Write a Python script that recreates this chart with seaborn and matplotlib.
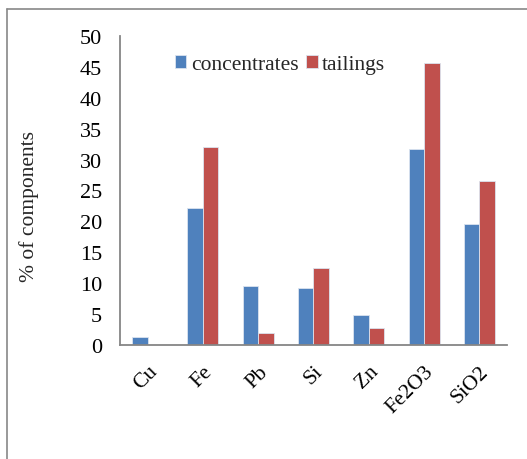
import matplotlib
matplotlib.use("Agg")
import matplotlib.pyplot as plt
import seaborn as sns
import pandas as pd
from matplotlib.lines import Line2D

categories = ["Cu", "Fe", "Pb", "Si", "Zn", "Fe2O3", "SiO2"]
concentrates = [1.3, 22.2, 9.5, 9.2, 4.8, 31.7, 19.6]
tailings = [0.0, 32.0, 2.0, 12.5, 2.7, 45.7, 26.6]
series_names = ["concentrates", "tailings"]
yticks = [0, 5, 10, 15, 20, 25, 30, 35, 40, 45, 50]

df = pd.DataFrame({
    "component": categories * 2,
    "value": concentrates + tailings,
    "series": [series_names[0]] * len(categories) + [series_names[1]] * len(categories),
})

sns.set_style("white")
plt.rcParams["font.family"] = ["Liberation Serif", "DejaVu Serif"]

fig = plt.figure(figsize=(5.27, 4.60), dpi=100)
ax = fig.add_axes([0.2277, 0.2478, 0.9620 - 0.2277, 0.9196 - 0.2478])

sns.barplot(data=df, x="component", y="value", hue="series",
            palette=["#4F81BD", "#C0504D"], width=0.56, ax=ax,
            edgecolor="#dbe3ef", linewidth=0.6, saturation=1)

grey = "#868686"
ax.set_ylim(0, 50)
ax.set_xlim(-0.5, len(categories) - 0.5)
ax.set_yticks(yticks)
ax.set_yticklabels([str(v) for v in yticks], fontsize=16)
ax.set_xticks(range(len(categories)))
ax.set_xticklabels(categories, fontsize=15.5, rotation=45, ha="right",
                   rotation_mode="anchor")
ax.set_xticks([i - 0.5 for i in range(len(categories) + 1)], minor=True)
ax.tick_params(axis="x", which="major", length=0, pad=12)
ax.tick_params(axis="x", which="minor", length=6, width=1.2, color=grey, direction="out")
ax.tick_params(axis="y", which="major", length=6, width=1.2, color=grey, direction="out", pad=7)
ax.tick_params(axis="both", which="both", color=grey, labelcolor="black")

for side in ["top", "right"]:
    ax.spines[side].set_visible(False)
for side in ["left", "bottom"]:
    ax.spines[side].set_color(grey)
    ax.spines[side].set_linewidth(1.3)

ax.set_xlabel("")
ax.set_ylabel("% of components", fontsize=15.5)
ax.yaxis.set_label_coords(-0.21, 0.45)

leg = ax.legend(loc="center", bbox_to_anchor=(0.413, 0.908), ncol=2, frameon=False,
                fontsize=15.5, handlelength=0.55, handleheight=0.55, handletextpad=0.2,
                columnspacing=0.35, borderaxespad=0)

# outer chart border (partially cut off)
fig.add_artist(Line2D([7 / 527, 7 / 527], [0, 1 - 10 / 460], color="#888888", lw=1.2,
                      transform=fig.transFigure))
fig.add_artist(Line2D([7 / 527, 1], [1 - 10 / 460, 1 - 10 / 460], color="#888888", lw=1.2,
                      transform=fig.transFigure))

fig.savefig("out.png", dpi=100)
